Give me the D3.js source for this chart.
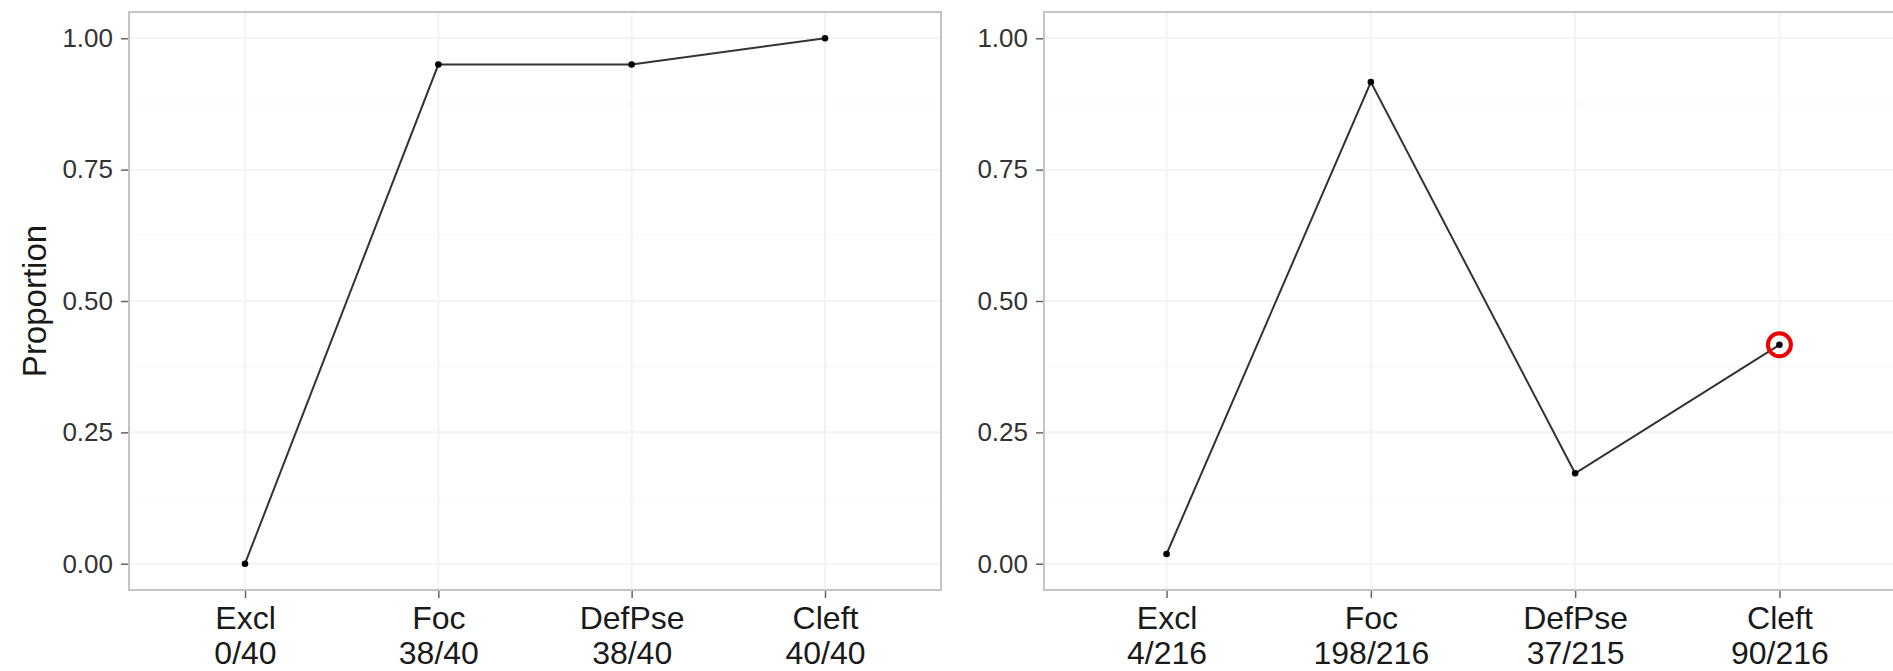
<!DOCTYPE html>
<html>
<head>
<meta charset="utf-8">
<script src="https://cdn.jsdelivr.net/npm/d3@7"></script>
<style>
  html, body { margin: 0; padding: 0; background: #fff; overflow: hidden; }
  svg { display: block; }
  text { font-family: "Liberation Sans", Arial, Helvetica, sans-serif; }
</style>
</head>
<body>
<svg id="chart" width="1893" height="671"></svg>
<script>
// Categories shared by both panels
const categories = ["Excl", "Foc", "DefPse", "Cleft"];

// Left panel: counts out of totals
const leftHits   = [0, 38, 38, 40];
const leftTotals = [40, 40, 40, 40];

// Right panel: counts out of totals
const rightHits   = [4, 198, 37, 90];
const rightTotals = [216, 216, 215, 216];

// Index of the highlighted point in the right panel
const rightHighlight = [3];

const yTicks = [0, 0.25, 0.5, 0.75, 1];
const yMinor = [0.125, 0.375, 0.625, 0.875];
const yTitle = "Proportion";

const svg = d3.select("#chart");
const panelTop = 12, panelBottom = 590;

const y = d3.scaleLinear().domain([-0.05, 1.05]).range([panelBottom, panelTop]);

function drawPanel(opts) {
  const { left, right, hits, totals, highlight, showTitle } = opts;
  const props = hits.map((h, i) => h / totals[i]);
  const x = d3.scalePoint().domain(categories).range([left, right]).padding(0.6);
  const g = svg.append("g");

  // background
  g.append("rect").attr("x", left).attr("y", panelTop)
    .attr("width", right - left).attr("height", panelBottom - panelTop)
    .attr("fill", "#fff");

  // minor grid
  g.selectAll(".yminor").data(yMinor).join("line")
    .attr("x1", left).attr("x2", right)
    .attr("y1", d => y(d)).attr("y2", d => y(d))
    .attr("stroke", "#fafafa").attr("stroke-width", 1.5);

  // major grid
  g.selectAll(".ymajor").data(yTicks).join("line")
    .attr("x1", left).attr("x2", right)
    .attr("y1", d => y(d)).attr("y2", d => y(d))
    .attr("stroke", "#f3f3f3").attr("stroke-width", 2);
  g.selectAll(".xmajor").data(categories).join("line")
    .attr("x1", d => x(d)).attr("x2", d => x(d))
    .attr("y1", panelTop).attr("y2", panelBottom)
    .attr("stroke", "#f3f3f3").attr("stroke-width", 2);

  // line + points
  const pts = categories.map((c, i) => [x(c), y(props[i])]);
  g.append("path").datum(pts)
    .attr("d", d3.line())
    .attr("fill", "none").attr("stroke", "#333").attr("stroke-width", 2);
  g.selectAll(".pt").data(pts).join("circle")
    .attr("cx", d => d[0]).attr("cy", d => d[1]).attr("r", 3.3)
    .attr("fill", "#000");

  // highlight ring
  g.selectAll(".hl").data(highlight).join("circle")
    .attr("cx", i => pts[i][0]).attr("cy", i => pts[i][1]).attr("r", 11.5)
    .attr("fill", "none").attr("stroke", "#f20000").attr("stroke-width", 4);

  // panel border
  g.append("rect").attr("x", left).attr("y", panelTop)
    .attr("width", right - left).attr("height", panelBottom - panelTop)
    .attr("fill", "none").attr("stroke", "#c4c4c4").attr("stroke-width", 2);

  // y axis
  const yAxis = d3.axisLeft(y).tickValues(yTicks)
    .tickFormat(d3.format(".2f")).tickSize(7).tickPadding(8);
  const ya = g.append("g").attr("transform", `translate(${left - 1},0)`).call(yAxis);
  ya.select(".domain").remove();
  ya.selectAll(".tick line").attr("stroke", "#666").attr("stroke-width", 1.5);
  ya.selectAll(".tick text")
    .attr("font-size", 26).attr("fill", "#333")
    .attr("font-family", "Liberation Sans, Arial, sans-serif");

  // x axis with two-line labels
  const xAxis = d3.axisBottom(x).tickSize(7).tickFormat("");
  const xa = g.append("g").attr("transform", `translate(0,${panelBottom + 1})`).call(xAxis);
  xa.select(".domain").remove();
  xa.selectAll(".tick line").attr("stroke", "#666").attr("stroke-width", 1.5);
  xa.selectAll(".tick").each(function(d, i) {
    const t = d3.select(this).append("text")
      .attr("text-anchor", "middle").attr("fill", "#1a1a1a")
      .attr("font-size", 32);
    t.append("tspan").attr("x", 0).attr("y", 629 - panelBottom - 1).text(d);
    t.append("tspan").attr("x", 0).attr("y", 664 - panelBottom - 1)
      .text(`${hits[i]}/${totals[i]}`);
  });

  if (showTitle) {
    svg.append("text")
      .attr("transform", `translate(46,${(panelTop + panelBottom) / 2}) rotate(-90)`)
      .attr("text-anchor", "middle")
      .attr("font-size", 33).attr("fill", "#1a1a1a")
      .text(yTitle);
  }
}

drawPanel({ left: 129, right: 941, hits: leftHits, totals: leftTotals, highlight: [], showTitle: true });
drawPanel({ left: 1044, right: 1902, hits: rightHits, totals: rightTotals, highlight: rightHighlight, showTitle: false });
</script>
</body>
</html>
